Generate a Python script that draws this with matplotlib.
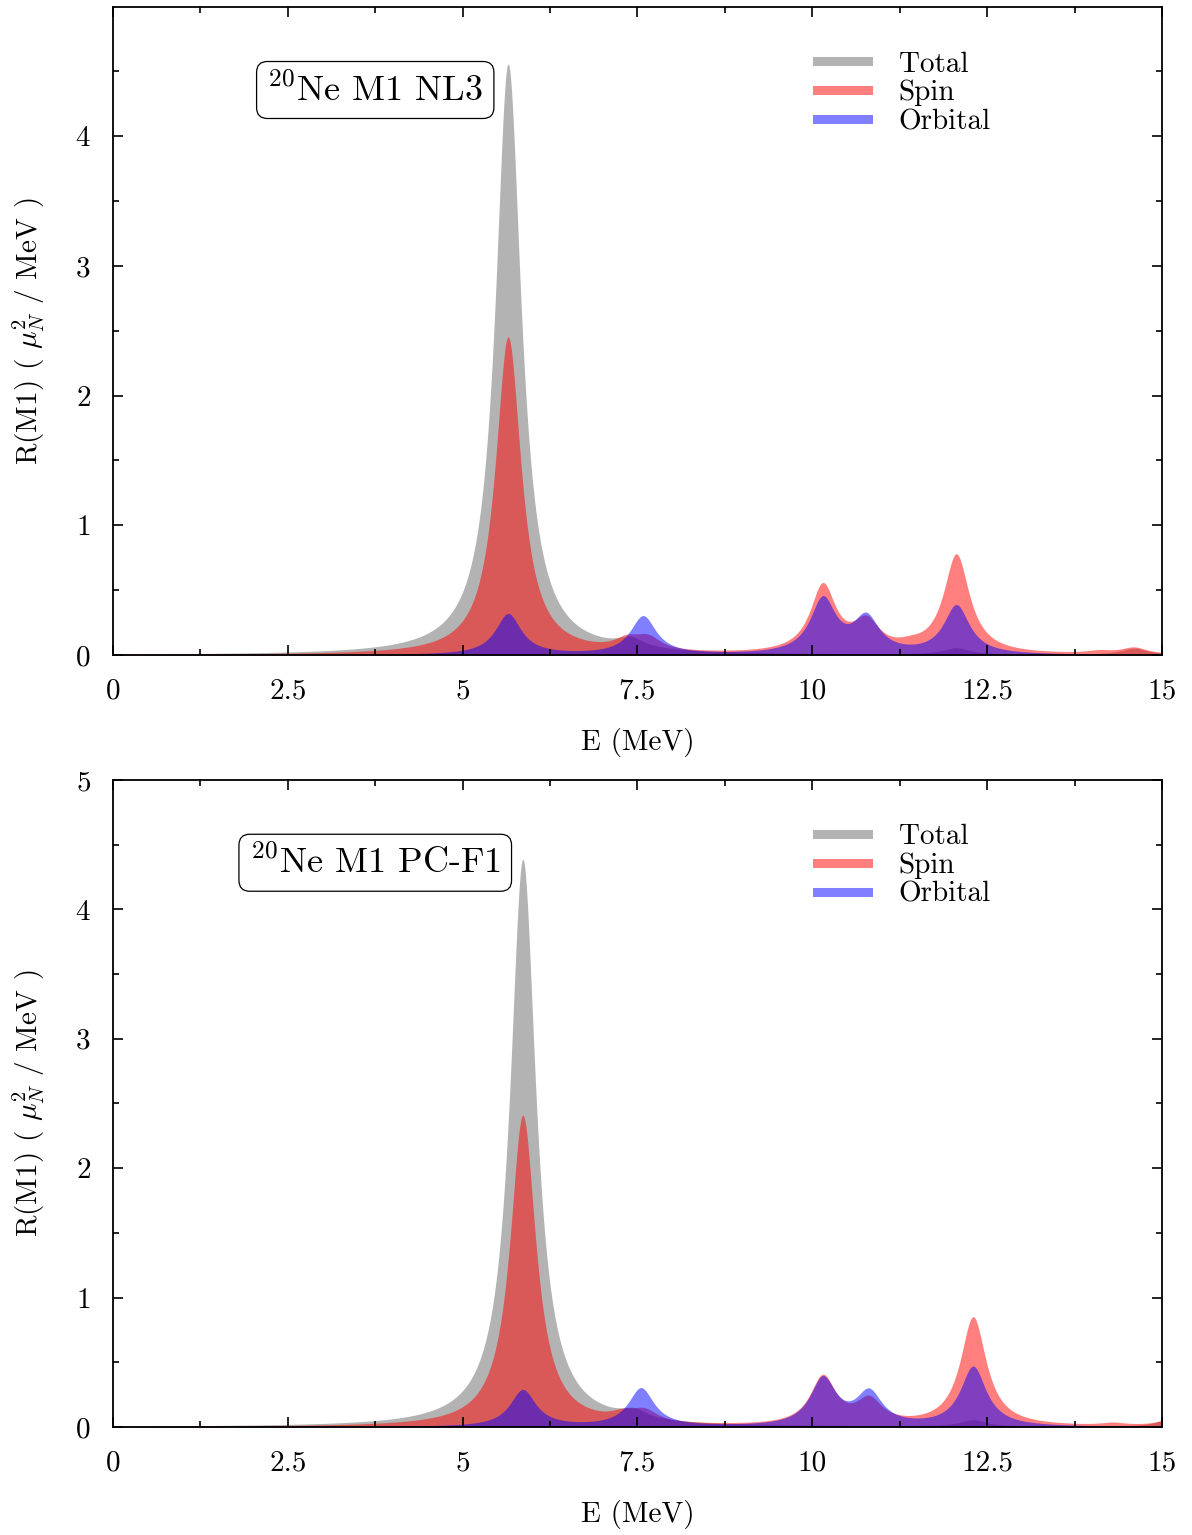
import numpy as np
import matplotlib
matplotlib.use("Agg")
import matplotlib.pyplot as plt
from matplotlib.lines import Line2D

plt.rcParams['font.family'] = 'cmr10'
plt.rcParams['mathtext.fontset'] = 'cm'
plt.rcParams['axes.unicode_minus'] = False
plt.rcParams['axes.formatter.use_mathtext'] = True

# Discrete M1 transitions: energy (MeV) and strength (mu_N^2), per channel
# --- 20Ne, NL3 ---
nl3_total_E = [5.65, 7.40, 12.06, 14.60]
nl3_total_B = [3.22, 0.050, 0.035, 0.035]
nl3_spin_E = [5.65, 7.35, 7.65, 10.15, 10.77, 11.40, 12.06, 14.10, 14.60]
nl3_spin_B = [1.73, 0.055, 0.068, 0.364, 0.154, 0.021, 0.537, 0.014, 0.035]
nl3_orb_E = [5.65, 7.58, 10.15, 10.77, 12.06]
nl3_orb_B = [0.222, 0.208, 0.296, 0.190, 0.265]

# --- 20Ne, PC-F1 ---
pcf1_total_E = [5.86, 7.45, 12.30, 15.15]
pcf1_total_B = [3.10, 0.045, 0.035, 0.050]
pcf1_spin_E = [5.86, 7.30, 7.60, 10.15, 10.81, 12.30, 14.30, 15.15]
pcf1_spin_B = [1.70, 0.038, 0.060, 0.263, 0.129, 0.594, 0.014, 0.042]
pcf1_orb_E = [5.86, 7.55, 10.15, 10.81, 12.30]
pcf1_orb_B = [0.200, 0.208, 0.257, 0.178, 0.325]

GAMMA = 0.45  # Lorentzian width (MeV)


def fold(E, energies, strengths, width=GAMMA):
    """Lorentzian folding of a discrete strength distribution."""
    g = width / 2.0
    R = np.zeros_like(E)
    for e0, b in zip(energies, strengths):
        R += b / np.pi * g / ((E - e0) ** 2 + g ** 2)
    return R


E = np.linspace(0.0, 15.0, 3001)

panels = [
    ("$^{20}$Ne M1 NL3", (nl3_total_E, nl3_total_B), (nl3_spin_E, nl3_spin_B),
     (nl3_orb_E, nl3_orb_B), 4.995, [0, 1, 2, 3, 4]),
    ("$^{20}$Ne M1 PC-F1", (pcf1_total_E, pcf1_total_B), (pcf1_spin_E, pcf1_spin_B),
     (pcf1_orb_E, pcf1_orb_B), 5.0, [0, 1, 2, 3, 4, 5]),
]

fig = plt.figure(figsize=(11.92, 15.35), dpi=100)
rects = [[0.0948, 0.5733, 0.8800, 0.4221],
         [0.0948, 0.0704, 0.8800, 0.4215]]

for rect, (title, tot, spin, orb, ymax, yt) in zip(rects, panels):
    ax = fig.add_axes(rect)
    ax.fill_between(E, 0, fold(E, *tot), color='#b3b3b3', lw=0, label='Total')
    ax.fill_between(E, 0, fold(E, *spin), color='red', alpha=0.5, lw=0, label='Spin')
    ax.fill_between(E, 0, fold(E, *orb), color='blue', alpha=0.5, lw=0, label='Orbital')

    ax.set_xlim(0, 15)
    ax.set_ylim(0, ymax)
    ax.set_xticks([0, 2.5, 5, 7.5, 10, 12.5, 15])
    ax.set_xticklabels(['0', '2.5', '5', '7.5', '10', '12.5', '15'])
    ax.set_xticks(np.arange(1.25, 15, 2.5), minor=True)
    ax.set_yticks(yt)
    ax.set_yticks(np.arange(0.5, ymax, 1.0), minor=True)
    ax.tick_params(which='both', direction='in', top=True, right=True, width=1.2)
    ax.tick_params(which='major', length=7)
    ax.tick_params(which='minor', length=4)
    ax.tick_params(axis='x', which='major', labelsize=21, pad=17)
    ax.tick_params(axis='y', which='major', labelsize=21, pad=16)
    for sp in ax.spines.values():
        sp.set_linewidth(1.3)

    ax.set_xlabel('E (MeV)', fontsize=21)
    ax.set_ylabel(r'R(M1) ( $\mu_N^2$ / MeV )', fontsize=21)
    ax.xaxis.set_label_coords(0.5, -0.113)
    ax.yaxis.set_label_coords(-0.063, 0.5)

    ax.text(0.25, 0.872, title, transform=ax.transAxes, fontsize=26,
            ha='center', va='center',
            bbox=dict(boxstyle='round,pad=0.3', fc='white', ec='black', lw=0.9))

    handles = [Line2D([], [], color='#b3b3b3', lw=6.5),
               Line2D([], [], color='red', alpha=0.5, lw=6.5),
               Line2D([], [], color='blue', alpha=0.5, lw=6.5)]
    ax.legend(handles, ['Total', 'Spin', 'Orbital'], loc='upper left',
              bbox_to_anchor=(0.671, 0.932), frameon=False, fontsize=21,
              handlelength=1.75, handletextpad=1.05, labelspacing=0.08,
              borderpad=0, borderaxespad=0)

fig.savefig('out.png', dpi=100)
